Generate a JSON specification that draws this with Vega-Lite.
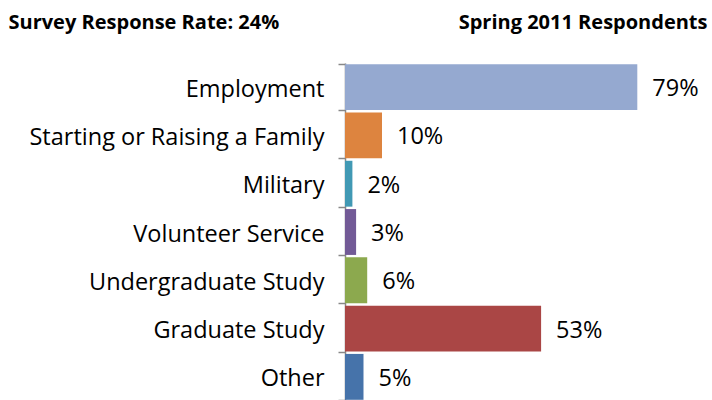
{
  "$schema": "https://vega.github.io/schema/vega-lite/v6.json",
  "autosize": "none",
  "width": 370,
  "height": 338,
  "padding": {"left": 345, "top": 63, "right": 0, "bottom": 0},
  "background": "white",
  "config": {"view": {"stroke": null}, "font": "Open Sans"},
  "data": {"values": [
    {"category": "Employment", "value": 0.79},
    {"category": "Starting or Raising a Family", "value": 0.10},
    {"category": "Military", "value": 0.02},
    {"category": "Volunteer Service", "value": 0.03},
    {"category": "Undergraduate Study", "value": 0.06},
    {"category": "Graduate Study", "value": 0.53},
    {"category": "Other", "value": 0.05}
  ]},
  "encoding": {
    "y": {
      "field": "category", "type": "nominal", "sort": null,
      "scale": {"paddingInner": 0.05, "paddingOuter": 0.025},
      "axis": {
        "title": "Survey Response Rate: 24%",
        "titleAngle": 0, "titleX": -337, "titleY": -35, "titleAlign": "left", "titleBaseline": "alphabetic",
        "titleFont": "Open Sans", "titleFontSize": 20, "titleFontWeight": "bold", "titleColor": "black",
        "labelFont": "Open Sans", "labelFontSize": 23.5, "labelColor": "black", "labelPadding": 14, "labelLimit": 0, "labelOffset": 2,
        "domainColor": "#888888", "domainWidth": 1.5, "tickColor": "#888888", "tickSize": 7, "tickWidth": 1.5,
        "tickBand": "extent"
      }
    },
    "x": {
      "field": "value", "type": "quantitative",
      "scale": {"domain": [0, 1]},
      "axis": {
        "orient": "top", "labels": false, "ticks": false, "domain": false, "grid": false,
        "title": "Spring 2011 Respondents",
        "titleX": 362, "titleY": -35, "titleAlign": "right", "titleBaseline": "alphabetic", "titleAnchor": null,
        "titleFont": "Open Sans", "titleFontSize": 20, "titleFontWeight": "bold", "titleColor": "black"
      }
    }
  },
  "layer": [
    {
      "mark": {"type": "bar"},
      "encoding": {
        "color": {
          "field": "category", "type": "nominal", "sort": null, "legend": null,
          "scale": {
            "domain": ["Employment", "Starting or Raising a Family", "Military", "Volunteer Service", "Undergraduate Study", "Graduate Study", "Other"],
            "range": ["#95a9d0", "#dd843f", "#4199b4", "#725a96", "#8ca94e", "#aa4645", "#4673aa"]
          }
        }
      }
    },
    {
      "mark": {"type": "text", "align": "left", "baseline": "middle", "dx": 15, "dy": 2, "fontSize": 23.5, "font": "Open Sans", "color": "black"},
      "encoding": {"text": {"field": "value", "type": "quantitative", "format": ".0%"}}
    }
  ]
}
